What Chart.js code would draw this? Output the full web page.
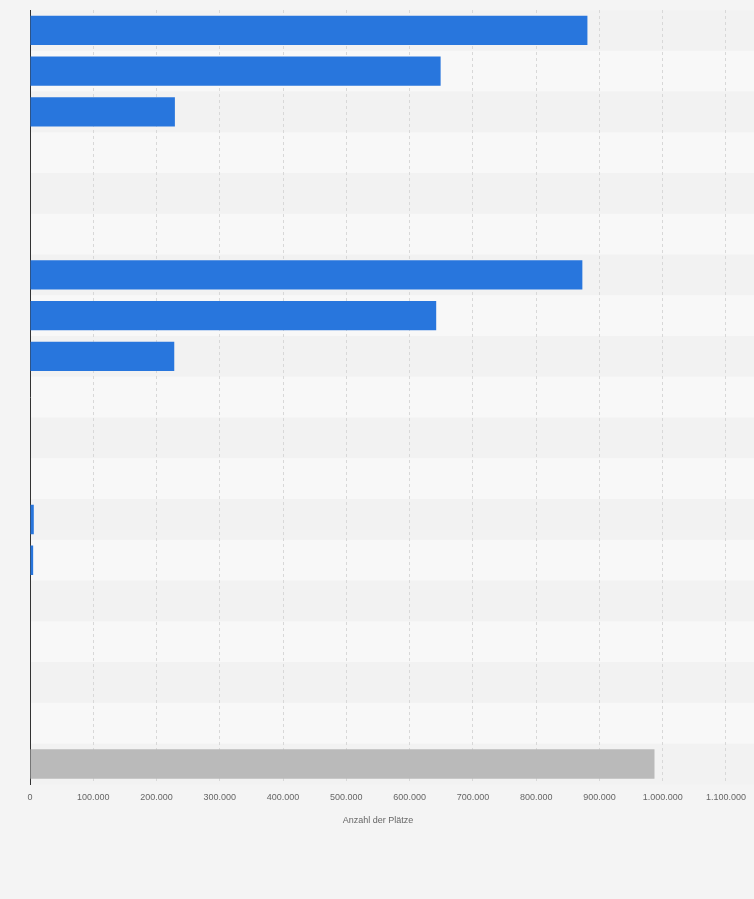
<!DOCTYPE html>
<html>
<head>
<meta charset="utf-8">
<script src="https://cdn.jsdelivr.net/npm/chart.js@4"></script>
<style>
  body { margin: 0; background: #f4f4f4; }
  #wrap { position: relative; width: 754px; height: 830px; }
</style>
</head>
<body>
<div id="wrap"><canvas id="result"></canvas></div>
<script>
// categories have no visible labels in the reference
const categories = Array.from({length: 19}, () => '');
const values = [881000, 649000, 229000, null, null, null, 873000, 642000, 228000, null, null, null, 6000, 5000, null, null, null, null, 987000];
const barColors = values.map((v, i) => i === 18 ? '#bababa' : '#2876dd');
const tickValues = [0, 100000, 200000, 300000, 400000, 500000, 600000, 700000, 800000, 900000, 1000000, 1100000];

// alternating row bands
const bands = {
    id: 'bands',
    beforeDraw(chart) {
        const {ctx, chartArea, scales} = chart;
        const y = scales.y;
        ctx.save();
        categories.forEach((c, i) => {
            const top = y.getPixelForValue(i) - 20.3;
            ctx.fillStyle = i % 2 === 0 ? '#f2f2f2' : '#f8f8f8';
            ctx.fillRect(chartArea.left, top, chartArea.right - chartArea.left + 30, 40.6);
        });
        ctx.restore();
    }
};

new Chart(document.getElementById('result').getContext('2d'), {
    type: 'bar',
    data: {
        labels: categories,
        datasets: [{
            data: values,
            backgroundColor: barColors,
            categoryPercentage: 1,
            barPercentage: 0.72
        }]
    },
    plugins: [bands],
    options: {
        indexAxis: 'y',
        responsive: true,
        maintainAspectRatio: false,
        animation: false,
        layout: { padding: { left: 0, right: 28, top: 10, bottom: 0 } },
        scales: {
            x: {
                min: 0,
                max: 1100000,
                afterBuildTicks: axis => { axis.ticks = tickValues.map(v => ({value: v})); },
                grid: { color: '#d8d8d8', borderDash: [3, 3], drawTicks: false },
                border: { display: false, dash: [3, 3] },
                ticks: {
                    color: '#666', font: { size: 9, family: 'Arial, Liberation Sans' }, padding: 8,
                    callback: v => v.toLocaleString('de-DE')
                },
                title: { display: true, text: 'Anzahl der Plätze', color: '#666', font: { size: 9, family: 'Arial, Liberation Sans' } }
            },
            y: {
                grid: { display: false },
                border: { color: '#333', width: 1 },
                ticks: { display: false },
                afterFit: axis => { axis.width = 30; }
            }
        },
        plugins: { legend: { display: false }, tooltip: { enabled: false } }
    }
});
</script>
</body>
</html>
